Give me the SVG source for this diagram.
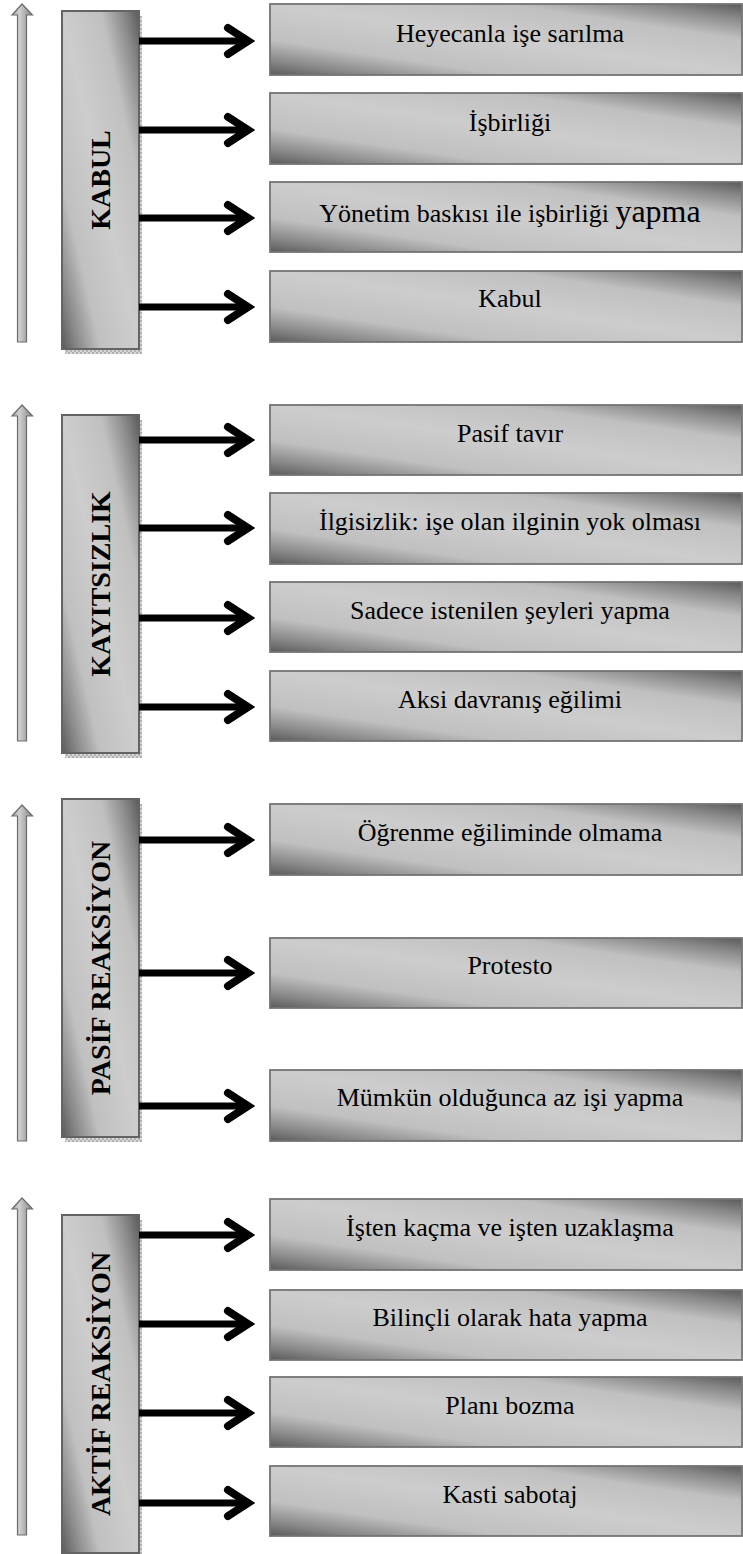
<svg xmlns="http://www.w3.org/2000/svg" width="743" height="1554" viewBox="0 0 743 1554">
<defs>
<style>
.box{fill:url(#gd);stroke:#747474;stroke-width:1.8}
.side{fill:url(#gd);stroke:#646464;stroke-width:2}
.shadow{fill:url(#sh)}
.up{fill:url(#gu);stroke:#6c6c6c;stroke-width:1.2}
.lbl{font-family:"Liberation Serif","Times New Roman",serif;font-size:26px;text-anchor:middle;fill:#000}
.big{font-size:32px}
.cat{font-family:"Liberation Serif","Times New Roman",serif;font-size:28px;font-weight:bold;text-anchor:middle;fill:#000}
.conn{fill:none;stroke:#000;stroke-width:7;marker-end:url(#chev)}
</style>
<linearGradient id="gd" x1="0" y1="1" x2="1" y2="0">
<stop offset="0" stop-color="#5a5a5a"/>
<stop offset="0.1" stop-color="#878787"/>
<stop offset="0.25" stop-color="#c0c0c0"/>
<stop offset="0.5" stop-color="#cdcdcd"/>
<stop offset="0.75" stop-color="#c0c0c0"/>
<stop offset="0.9" stop-color="#878787"/>
<stop offset="1" stop-color="#5a5a5a"/>
</linearGradient>
<linearGradient id="gu" x1="0" y1="0" x2="1" y2="0">
<stop offset="0" stop-color="#a0a0a0"/>
<stop offset="0.35" stop-color="#d0d0d0"/>
<stop offset="1" stop-color="#858585"/>
</linearGradient>
<pattern id="sh" width="4" height="4" patternUnits="userSpaceOnUse">
<rect width="4" height="4" fill="#d6d6d6"/>
<rect width="2" height="2" fill="#b2b2b2"/>
<rect x="2" y="2" width="2" height="2" fill="#b2b2b2"/>
</pattern>
<marker id="chev" markerUnits="userSpaceOnUse" markerWidth="30" markerHeight="30" viewBox="0 0 30 30" refX="23" refY="15" orient="auto" overflow="visible">
<path d="M3,2 L23,15 L3,28" fill="none" stroke="#000" stroke-width="8" stroke-linecap="round" stroke-linejoin="miter"/>
</marker>
</defs>

<g id="scale-arrows">
<polygon class="up" points="17.5,342 17.5,15 12,15 22,4 32.5,15 26.5,15 26.5,342"/>
<polygon class="up" points="17.5,741 17.5,416 12,416 22,405 32.5,416 26.5,416 26.5,741"/>
<polygon class="up" points="17.5,1141 17.5,816 12,816 22,805 32.5,816 26.5,816 26.5,1141"/>
<polygon class="up" points="17.5,1535 17.5,1209 12,1209 22,1198 32.5,1209 26.5,1209 26.5,1535"/>
</g>

<g id="cat-kabul">
<rect class="shadow" x="65" y="16" width="77" height="338"/>
<rect class="side" x="62" y="11" width="77" height="338"/>
<text class="cat" transform="translate(110,180) rotate(-90)">KABUL</text>
</g>
<g id="cat-kayitsizlik">
<rect class="shadow" x="65" y="420" width="77" height="338"/>
<rect class="side" x="62" y="415" width="77" height="338"/>
<text class="cat" transform="translate(110,584) rotate(-90)">KAYITSIZLIK</text>
</g>
<g id="cat-pasif">
<rect class="shadow" x="65" y="804" width="77" height="338"/>
<rect class="side" x="62" y="799" width="77" height="338"/>
<text class="cat" transform="translate(110,968) rotate(-90)">PASİF REAKSİYON</text>
</g>
<g id="cat-aktif">
<rect class="shadow" x="65" y="1220" width="77" height="338"/>
<rect class="side" x="62" y="1215" width="77" height="338"/>
<text class="cat" transform="translate(110,1384) rotate(-90)">AKTİF REAKSİYON</text>
</g>

<g id="n1"><rect class="box" x="270" y="4" width="472" height="71"/><text class="lbl" x="510" y="42">Heyecanla işe sarılma</text></g>
<g id="n2"><rect class="box" x="270" y="93" width="472" height="71"/><text class="lbl" x="510" y="131">İşbirliği</text></g>
<g id="n3"><rect class="box" x="270" y="182" width="472" height="70"/><text class="lbl" x="510" y="222">Yönetim baskısı ile işbirliği <tspan class="big">yapma</tspan></text></g>
<g id="n4"><rect class="box" x="270" y="271" width="472" height="71"/><text class="lbl" x="510" y="307">Kabul</text></g>

<g id="n5"><rect class="box" x="270" y="405" width="472" height="70"/><text class="lbl" x="510" y="442">Pasif tavır</text></g>
<g id="n6"><rect class="box" x="270" y="493" width="472" height="71"/><text class="lbl" x="510" y="530">İlgisizlik: işe olan ilginin yok olması</text></g>
<g id="n7"><rect class="box" x="270" y="582" width="472" height="70"/><text class="lbl" x="510" y="619">Sadece istenilen şeyleri yapma</text></g>
<g id="n8"><rect class="box" x="270" y="671" width="472" height="70"/><text class="lbl" x="510" y="708">Aksi davranış eğilimi</text></g>

<g id="n9"><rect class="box" x="270" y="804" width="472" height="71"/><text class="lbl" x="510" y="841">Öğrenme eğiliminde olmama</text></g>
<g id="n10"><rect class="box" x="270" y="938" width="472" height="70"/><text class="lbl" x="510" y="974">Protesto</text></g>
<g id="n11"><rect class="box" x="270" y="1070" width="472" height="71"/><text class="lbl" x="510" y="1106">Mümkün olduğunca az işi yapma</text></g>

<g id="n12"><rect class="box" x="270" y="1199" width="472" height="71"/><text class="lbl" x="510" y="1236">İşten kaçma ve işten uzaklaşma</text></g>
<g id="n13"><rect class="box" x="270" y="1290" width="472" height="70"/><text class="lbl" x="510" y="1326">Bilinçli olarak hata yapma</text></g>
<g id="n14"><rect class="box" x="270" y="1377" width="472" height="70"/><text class="lbl" x="510" y="1414">Planı bozma</text></g>
<g id="n15"><rect class="box" x="270" y="1466" width="472" height="70"/><text class="lbl" x="510" y="1503">Kasti sabotaj</text></g>

<g id="connectors">
<path class="conn" d="M139,41 H248"/>
<path class="conn" d="M139,130 H248"/>
<path class="conn" d="M139,218 H248"/>
<path class="conn" d="M139,307 H248"/>
<path class="conn" d="M139,440 H248"/>
<path class="conn" d="M139,528 H248"/>
<path class="conn" d="M139,618 H248"/>
<path class="conn" d="M139,707 H248"/>
<path class="conn" d="M139,840 H248"/>
<path class="conn" d="M139,973 H248"/>
<path class="conn" d="M139,1106 H248"/>
<path class="conn" d="M139,1235 H248"/>
<path class="conn" d="M139,1324 H248"/>
<path class="conn" d="M139,1413 H248"/>
<path class="conn" d="M139,1503 H248"/>
</g>
</svg>
